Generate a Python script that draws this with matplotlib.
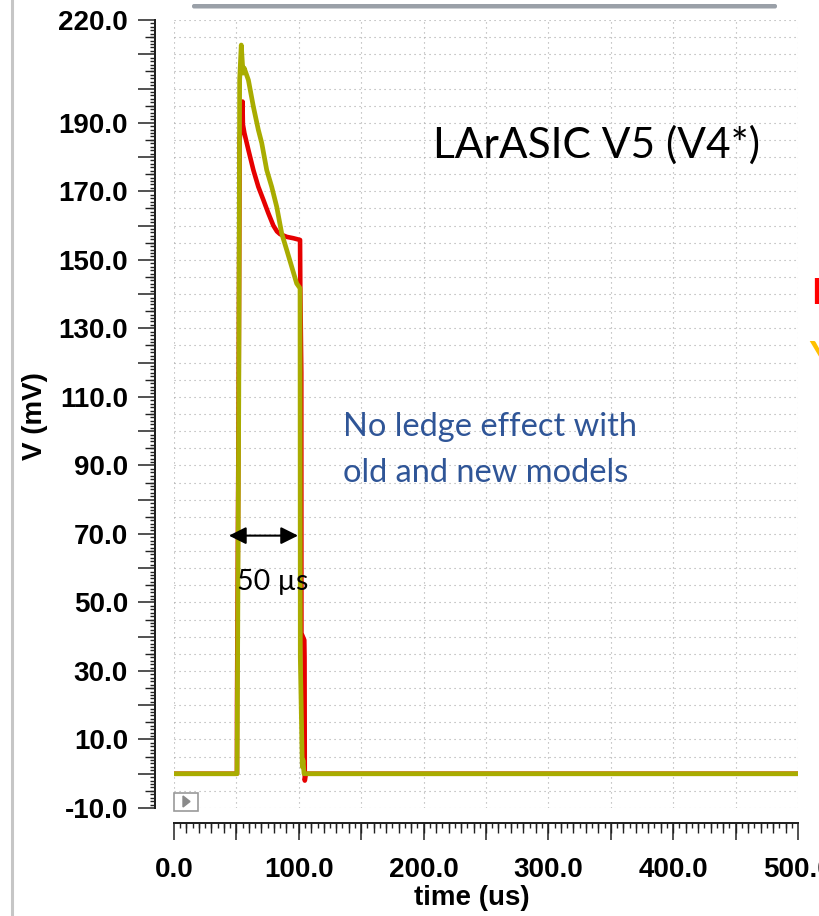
import numpy as np
import matplotlib.pyplot as plt
from matplotlib.ticker import MultipleLocator, FuncFormatter
from matplotlib.patches import Rectangle, Polygon, FancyBboxPatch
from matplotlib.lines import Line2D
from matplotlib.transforms import IdentityTransform

W, H, DPI = 820, 916, 100

# transient output, old model (red)
red_t = [0, 50.45, 50.5, 51.8, 52.6, 54.9, 55.2, 56.4, 59.6, 63.6, 67.6, 71.6, 75.6,
         79.6, 82.5, 85.0, 90.4, 95.7, 101.0, 101.2, 102.0, 102.1, 104.4, 104.6,
         104.8, 105.6, 500]
red_v = [0, 0, 20, 110, 185, 196.2, 189.5, 187.0, 182.1, 176.2, 171.3, 167.5, 163.6,
         160.0, 158.3, 157.5, 156.7, 156.3, 155.8, 142.0, 117.0, 41.0, 39.0, 34.0,
         -2.0, 0, 0]

# transient output, new model (yellow)
yel_t = [0, 50.5, 50.7, 51.9, 52.6, 53.9, 55.3, 56.2, 59.6, 63.6, 67.6, 70.3, 74.3,
         78.3, 82.3, 86.3, 90.3, 94.3, 98.3, 101.0, 101.2, 102.8, 103.4, 104.2, 500]
yel_v = [0, 0, 12.5, 110, 202.5, 212.7, 204.5, 206.0, 202.5, 194.7, 187.9, 184.1, 176.2,
         171.3, 165.5, 157.7, 152.9, 148.0, 143.1, 141.7, 34.0, 2.0, 4.0, 0, 0]

y_labels = [220, 190, 170, 150, 130, 110, 90, 70, 50, 30, 10, -10]
x_labels = [0, 100, 200, 300, 400, 500]

RED = '#E60000'
YEL = '#A9AC00'
TICK_FONT = dict(family='Liberation Sans', weight='bold', size=20)


def fx(x):
    return x / W


def fy(y):
    return 1 - y / H


fig = plt.figure(figsize=(W / DPI, H / DPI), dpi=DPI)
ax = fig.add_axes([fx(174), fy(808), 624 / W, 788 / H])
ax.set_xlim(0, 500)
ax.set_ylim(-10, 220)

# dotted grid: 50 us by 5 mV
for gx in np.arange(0, 501, 50):
    ax.axvline(gx, color='#A8A8A8', lw=0.8, ls=(0, (1, 3.5)), zorder=0)
for gy in np.arange(-10, 221, 5):
    ax.axhline(gy, color='#A8A8A8', lw=0.8, ls=(0, (1, 3.5)), zorder=0)

ax.plot(red_t, red_v, color=RED, lw=3.3, zorder=3)
ax.plot(yel_t, yel_v, color=YEL, lw=3.4, zorder=4)

# ruler style axes, pulled away from the plot area
yoff = -19 / 624
xoff = -15 / 788
for s in ['top', 'right']:
    ax.spines[s].set_visible(False)
ax.spines['left'].set_position(('axes', yoff))
ax.spines['bottom'].set_position(('axes', xoff))
for s in ['left', 'bottom']:
    ax.spines[s].set_linewidth(1.4)
    ax.spines[s].set_color('#222222')

ax.yaxis.set_major_locator(MultipleLocator(10))
ax.yaxis.set_minor_locator(MultipleLocator(1))
ax.xaxis.set_major_locator(MultipleLocator(50))
ax.xaxis.set_minor_locator(MultipleLocator(5))
ax.yaxis.set_major_formatter(FuncFormatter(
    lambda v, _: f'{v:.1f}' if int(round(v)) in y_labels else ''))
ax.xaxis.set_major_formatter(FuncFormatter(
    lambda v, _: f'{v:.1f}' if int(round(v)) in x_labels else ''))
ax.tick_params(which='major', length=12.5, width=1.1, color='#222222')
ax.tick_params(which='minor', length=3.6, width=1.0, color='#222222')
ax.tick_params(axis='y', which='major', pad=7)
ax.tick_params(axis='x', which='major', pad=12)
for lab in ax.get_xticklabels() + ax.get_yticklabels():
    lab.set(**TICK_FONT)

# medium ticks every 5 mV and every 10 us
sy = ax.secondary_yaxis(yoff)
sy.set_yticks(np.arange(-5, 220, 10))
sy.tick_params(length=7, width=1.0, color='#222222', labelleft=False)
sy.spines['left'].set_linewidth(1.4)
sx = ax.secondary_xaxis(xoff)
sx.set_xticks(np.arange(10, 500, 10))
sx.tick_params(length=7, width=1.0, color='#222222', labelbottom=False)
sx.spines['bottom'].set_linewidth(1.4)

fig.text(fx(35), fy(416), 'V (mV)', rotation=90, ha='center', va='center', **TICK_FONT)
fig.text(fx(472), fy(898), 'time (us)', ha='center', va='center', **TICK_FONT)

# pulse width marker
ax.annotate('', xy=(44.0, 69.5), xytext=(99.4, 69.5),
            arrowprops=dict(arrowstyle='<|-|>', color='black', lw=1.5,
                            mutation_scale=26, shrinkA=0, shrinkB=0), zorder=5)

slide = dict(family='Lato', va='baseline', ha='left')
fig.text(fx(237), fy(590), '50 µs', size=20.5, color='black', **slide)
fig.text(fx(433), fy(158), 'LArASIC V5 (V4*)', size=30.5, color='black', **slide)
fig.text(fx(343), fy(436), 'No ledge effect with', size=23.5, color='#2F5597', **slide)
fig.text(fx(343), fy(482), 'old and new models', size=23.5, color='#2F5597', **slide)
fig.text(fx(811), fy(304), 'R', size=26, weight='bold', color='#FF0000', **slide)
fig.text(fx(809), fy(367), 'Y', size=26, weight='bold', color='#FFC000', **slide)

# slide frame pieces and the small play button
fig.add_artist(Line2D([fx(12), fx(12)], [0, 1], color='#C6C6C6', lw=2.2))
fig.add_artist(FancyBboxPatch((192, H - 8.5), 585, 4.5,
                              boxstyle='round,pad=0,rounding_size=2',
                              transform=IdentityTransform(), color='#9AA0A8', lw=0))
fig.add_artist(Rectangle((fx(174), fy(811)), 24 / W, 18 / H, transform=fig.transFigure,
                         facecolor='white', edgecolor='#9A9A9A', lw=1.2))
fig.add_artist(Polygon([(fx(183), fy(796)), (fx(183), fy(807)), (fx(190), fy(801.5))],
                       closed=True, transform=fig.transFigure, color='#8A8A8A'))

fig.savefig('out.png', dpi=DPI)
